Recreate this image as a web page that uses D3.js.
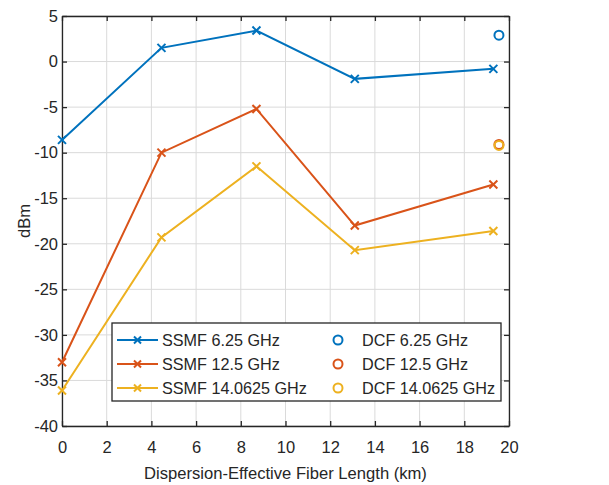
<!DOCTYPE html>
<html>
<head>
<meta charset="utf-8">
<script src="https://cdn.jsdelivr.net/npm/d3@7"></script>
<style>
  body { margin: 0; background: #fff; }
  svg text { font-family: "Liberation Sans", Arial, Helvetica, sans-serif; fill: #262626; }
</style>
</head>
<body>
<svg id="chart" width="609" height="485"></svg>
<script>
// fiber lengths (km)
const lengths = [0, 4.45, 8.7, 13.1, 19.3];
const ssmf625 = [-8.6, 1.5, 3.4, -1.9, -0.8];
const ssmf125 = [-33, -10, -5.2, -18, -13.5];
const ssmf140625 = [-36.1, -19.3, -11.5, -20.7, -18.6];

const dcfLength = 19.55;
const dcfValues = [2.9, -9.1, -9.2];

const seriesNames = ["6.25 GHz", "12.5 GHz", "14.0625 GHz"];
const colors = ["#0072BD", "#D95319", "#EDB120"];

const xTicks = [0, 2, 4, 6, 8, 10, 12, 14, 16, 18, 20];
const yTicks = [5, 0, -5, -10, -15, -20, -25, -30, -35, -40];

const svg = d3.select("#chart");
const margin = {left: 62, right: 100, top: 16, bottom: 59};
const W = 609, H = 485;

const x = d3.scaleLinear().domain([0, 20]).range([margin.left, W - margin.right]);
const y = d3.scaleLinear().domain([-40, 5]).range([H - margin.bottom, margin.top]);

// grid
const grid = svg.append("g");
grid.selectAll(".gx").data(xTicks).join("line")
    .attr("x1", d => x(d)).attr("x2", d => x(d))
    .attr("y1", y(-40)).attr("y2", y(5))
    .attr("stroke", "#dadada").attr("stroke-width", 1);
grid.selectAll(".gy").data(yTicks).join("line")
    .attr("x1", x(0)).attr("x2", x(20))
    .attr("y1", d => y(d)).attr("y2", d => y(d))
    .attr("stroke", "#dadada").attr("stroke-width", 1);

// axes, ticks pointing inward
const tickLen = 5;
const fmt = d => String(d);   // plain hyphen for negatives
function styleAxis(g) {
    g.select(".domain").attr("stroke", "#262626").attr("stroke-width", 1.3);
    g.selectAll(".tick line").attr("stroke", "#262626").attr("stroke-width", 1.3);
    g.selectAll(".tick text").attr("font-size", 16.5).attr("fill", "#262626");
}

svg.append("g")
    .attr("transform", `translate(0,${y(-40)})`)
    .call(d3.axisBottom(x).tickValues(xTicks).tickFormat(fmt).tickSizeInner(-tickLen).tickSizeOuter(0).tickPadding(15))
    .call(styleAxis);
svg.append("g")
    .attr("transform", `translate(0,${y(5)})`)
    .call(d3.axisTop(x).tickValues(xTicks).tickSizeInner(-tickLen).tickSizeOuter(0).tickFormat(""))
    .call(styleAxis);
svg.append("g")
    .attr("transform", `translate(${x(0)},0)`)
    .call(d3.axisLeft(y).tickValues(yTicks).tickFormat(fmt).tickSizeInner(-tickLen).tickSizeOuter(0).tickPadding(4))
    .call(styleAxis);
svg.append("g")
    .attr("transform", `translate(${x(20)},0)`)
    .call(d3.axisRight(y).tickValues(yTicks).tickSizeInner(-tickLen).tickSizeOuter(0).tickFormat(""))
    .call(styleAxis);

// series lines
const ssmf = [ssmf625, ssmf125, ssmf140625];
const line = d3.line().x(d => x(d[0])).y(d => y(d[1]));

function cross(g, cx, cy, color, s) {
    g.append("path")
        .attr("d", `M${cx - s},${cy - s}L${cx + s},${cy + s}M${cx - s},${cy + s}L${cx + s},${cy - s}`)
        .attr("stroke", color).attr("stroke-width", 2).attr("fill", "none");
}

const plot = svg.append("g");
ssmf.forEach((vals, i) => {
    const pts = lengths.map((l, j) => [l, vals[j]]);
    plot.append("path").datum(pts)
        .attr("d", line)
        .attr("fill", "none").attr("stroke", colors[i]).attr("stroke-width", 2);
    pts.forEach(p => cross(plot, x(p[0]), y(p[1]), colors[i], 4));
});

dcfValues.forEach((v, i) => {
    plot.append("circle")
        .attr("cx", x(dcfLength)).attr("cy", y(v)).attr("r", 4.5)
        .attr("fill", "none").attr("stroke", colors[i]).attr("stroke-width", 2);
});

// legend
const leg = svg.append("g");
leg.append("rect")
    .attr("x", 112).attr("y", 323).attr("width", 389).attr("height", 78)
    .attr("fill", "#fff").attr("stroke", "#262626").attr("stroke-width", 1.3);
const rowY = [340, 364, 388];
seriesNames.forEach((name, i) => {
    leg.append("line")
        .attr("x1", 117).attr("x2", 158).attr("y1", rowY[i]).attr("y2", rowY[i])
        .attr("stroke", colors[i]).attr("stroke-width", 2);
    cross(leg, 137.5, rowY[i], colors[i], 3.5);
    leg.append("text").attr("x", 162).attr("y", rowY[i]).attr("dy", "0.36em")
        .attr("font-size", 16.2).text("SSMF " + name);
    leg.append("circle")
        .attr("cx", 338).attr("cy", rowY[i]).attr("r", 4.5)
        .attr("fill", "none").attr("stroke", colors[i]).attr("stroke-width", 2);
    leg.append("text").attr("x", 362).attr("y", rowY[i]).attr("dy", "0.36em")
        .attr("font-size", 16.2).text("DCF " + name);
});

// axis labels
svg.append("text")
    .attr("x", (x(0) + x(20)) / 2).attr("y", 479)
    .attr("text-anchor", "middle").attr("font-size", 16.6)
    .text("Dispersion-Effective Fiber Length (km)");
svg.append("text")
    .attr("transform", `translate(30,${(y(-40) + y(5)) / 2}) rotate(-90)`)
    .attr("text-anchor", "middle").attr("font-size", 16.6)
    .text("dBm");
</script>
</body>
</html>
